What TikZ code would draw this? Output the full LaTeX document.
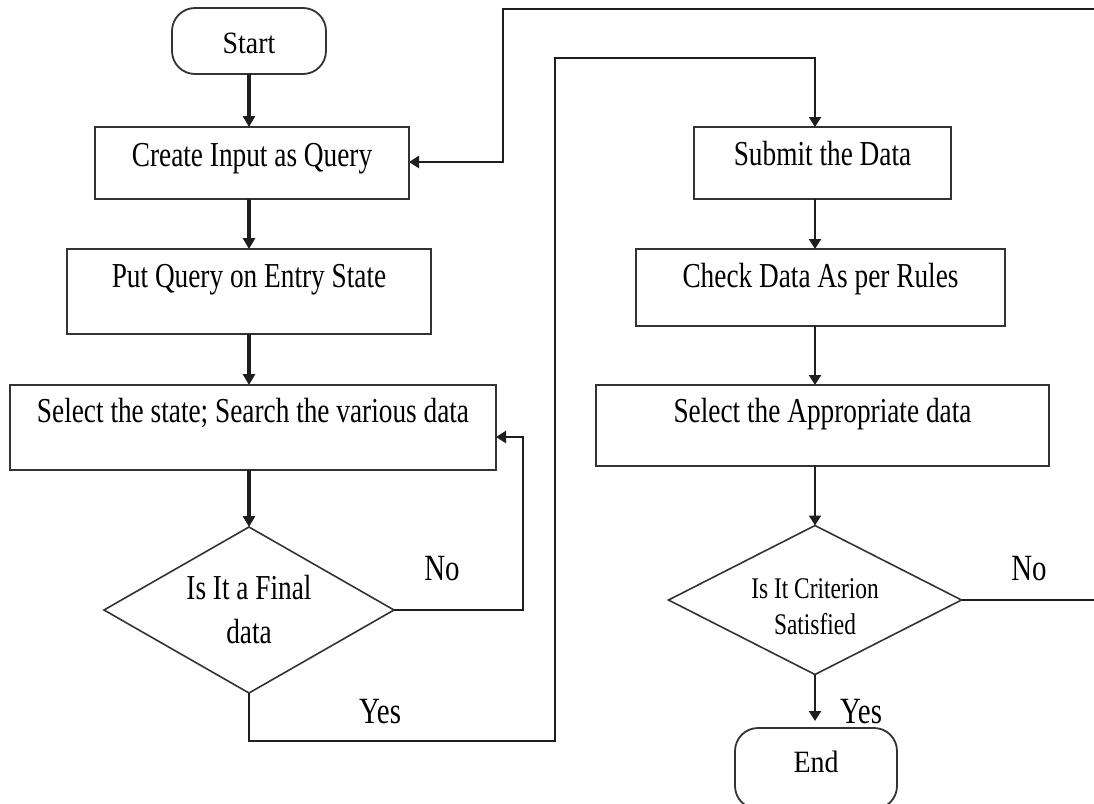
\documentclass[tikz,border=0pt]{standalone}
\usepackage{fontspec}
\setmainfont{Liberation Serif}[FakeStretch=0.78]
\newfontfamily\termfont{Liberation Serif}[FakeStretch=0.9]
\usetikzlibrary{shapes.geometric,arrows.meta}
\definecolor{ink}{HTML}{1E1E1E}
\definecolor{edge}{HTML}{333333}
\tikzset{
  every node/.style={inner sep=0pt, outer sep=0pt},
  procbox/.style={draw=edge, line width=2pt, anchor=north, font=\fontsize{35}{44}\selectfont},
  termbox/.style={draw=edge, line width=1.8pt, rounded corners=23pt, anchor=north, font=\termfont\fontsize{31}{36}\selectfont},
  decision/.style={draw=edge, diamond, line width=1.6pt, align=center},
  heavy/.style={draw=ink, line width=3.5pt, -{Triangle[length=11pt,width=12pt]}},
  light/.style={draw=ink, line width=2pt, -{Triangle[length=10pt,width=12pt]}},
  branch/.style={font=\fontsize{37}{40}\selectfont, anchor=base},
}
\begin{document}
\begin{tikzpicture}[x=1pt, y=-1pt]
  \useasboundingbox (0,0) rectangle (1094,803);
  \fill[white] (0,0) rectangle (1094,803);
  \clip (0,0) rectangle (1094,803);

  % spines of the two columns
  \coordinate (lspine) at (249,0);
  \coordinate (rspine) at (815,0);

  % left column
  \node[termbox, minimum width=154pt, text height=45pt, text depth=21pt] (start) at (249,8) {Start};
  \node[procbox, minimum width=314pt, text height=39pt, text depth=33pt] (create) at (252,127) {Create Input as Query};
  \node[procbox, minimum width=364pt, text height=38pt, text depth=47pt] (put) at (249,249) {Put Query on Entry State};
  \node[procbox, minimum width=486pt, text height=37pt, text depth=48pt] (select) at (253,385) {Select the state; Search the various data};
  \node[decision, aspect=1.75, minimum width=290pt, minimum height=166pt, font=\fontsize{35}{44}\selectfont] (final) at (249,610) {Is It a Final\\data};

  % right column
  \node[procbox, minimum width=257pt, text height=38pt, text depth=34pt] (submit) at (822.5,127) {Submit the Data};
  \node[procbox, minimum width=369pt, text height=38pt, text depth=39pt] (check) at (820.5,249) {Check Data As per Rules};
  \node[procbox, minimum width=453pt, text height=37pt, text depth=44pt] (choose) at (822.5,385) {Select the Appropriate data};
  \node[decision, aspect=1.97, minimum width=293pt, minimum height=149pt, font=\fontsize{30}{36}\selectfont] (criterion) at (815,600) {\rule{0pt}{34pt}Is It Criterion\\Satisfied};
  \node[termbox, minimum width=162pt, text height=44pt, text depth=37pt] (finish) at (816,728) {End};

  % branch labels
  \node[branch] (no1) at (442,580) {No};
  \node[branch] (yes1) at (380,723) {Yes};
  \node[branch] (no2) at (1029,580) {No};
  \node[branch] (yes2) at (861,723) {Yes};

  % routing points of the loops
  \coordinate (retA) at (523,437);
  \coordinate (yesA) at (555,741);
  \coordinate (yesB) at (555,58);
  \coordinate (loopA) at (1110,9);
  \coordinate (loopB) at (503,9);
  \coordinate (loopC) at (503,162);

  % left column flow
  \draw[heavy] (start.south -| lspine) -- (create.north -| lspine);
  \draw[heavy] (create.south -| lspine) -- (put.north -| lspine);
  \draw[heavy] (put.south -| lspine) -- (select.north -| lspine);
  \draw[heavy] (select.south -| lspine) -- (final.north);
  \draw[light, line width=2.6pt] (final.east) -| (retA) -- (select.east |- retA);
  \draw[light] (final.south) |- (yesA) -- (yesB) -| (submit.north -| rspine);

  % right column flow
  \draw[light] (submit.south -| rspine) -- (check.north -| rspine);
  \draw[light] (check.south -| rspine) -- (choose.north -| rspine);
  \draw[light] (choose.south -| rspine) -- (criterion.north);
  \draw[light, shorten >=7pt] (criterion.south) -- (criterion.south |- finish.north);
  \draw[light, line width=2.6pt] (criterion.east) -| (loopA) -- (loopB) -- (loopC) -- (create.east |- loopC);
\end{tikzpicture}
\end{document}
